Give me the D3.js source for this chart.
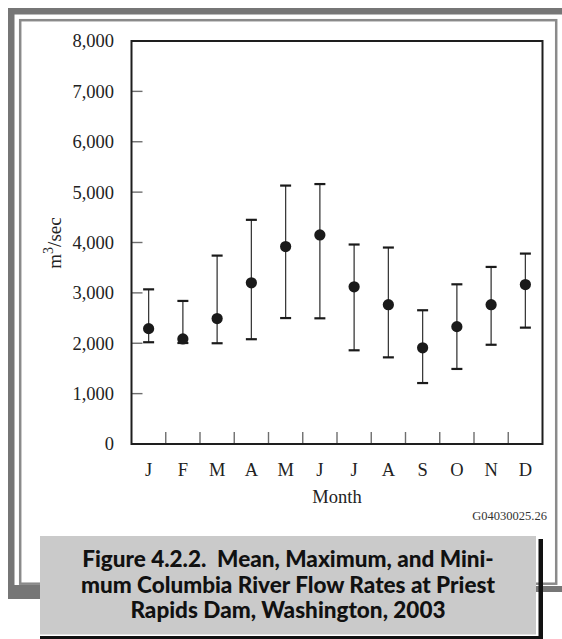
<!DOCTYPE html>
<html><head><meta charset="utf-8">
<script src="https://cdn.jsdelivr.net/npm/d3@7"></script>
<style>html,body{margin:0;padding:0;background:#fff;}svg{display:block;}</style>
</head><body>
<svg id="chart" width="562" height="639"></svg>
<script>
const monthLabels = ["J","F","M","A","M","J","J","A","S","O","N","D"];
const meanFlow = [2290, 2085, 2490, 3200, 3920, 4150, 3120, 2765, 1910, 2330, 2765, 3165];
const maxFlow  = [3070, 2840, 3740, 4450, 5130, 5160, 3960, 3900, 2655, 3170, 3515, 3780];
const minFlow  = [2020, 2005, 2000, 2080, 2500, 2495, 1860, 1720, 1210, 1490, 1970, 2310];
const yTickValues = [0,1000,2000,3000,4000,5000,6000,7000,8000];
const captionLines = ["Figure 4.2.2.  Mean, Maximum, and Mini-", "mum Columbia River Flow Rates at Priest", "Rapids Dam, Washington, 2003"];

const svg = d3.select("#chart");
const serif = "Liberation Serif, Times New Roman, serif";

// decorative frame
const frameGray = "#767676";
svg.append("rect").attr("x",8).attr("y",8).attr("width",554).attr("height",6.5).attr("fill",frameGray);
svg.append("rect").attr("x",8).attr("y",8).attr("width",6.5).attr("height",591).attr("fill",frameGray);
svg.append("rect").attr("x",8).attr("y",585).attr("width",40).attr("height",14).attr("fill",frameGray);
svg.append("rect").attr("x",530).attr("y",586).attr("width",32).attr("height",6).attr("fill",frameGray);
svg.append("rect").attr("x",20.2).attr("y",20.2).attr("width",536).attr("height",563.5)
  .attr("fill","none").attr("stroke","#8a8a8a").attr("stroke-width",2.5);

// plot area
const L = 131.5, R = 542.5, T = 41, B = 444;
const x = d3.scaleBand().domain(d3.range(12)).range([L, R]).padding(0);
const y = d3.scaleLinear().domain([0, 8000]).range([B, T]);

const g = svg.append("g");

// y ticks (inside)
g.selectAll(".yt").data(yTickValues.slice(1, -1)).enter().append("line")
  .attr("x1", L).attr("x2", L + 11).attr("y1", d => y(d)).attr("y2", d => y(d))
  .attr("stroke", "#6e6e6e").attr("stroke-width", 1.4);
// y tick labels
g.selectAll(".yl").data(yTickValues).enter().append("text")
  .attr("x", 114).attr("y", d => y(d)).attr("dy", "0.35em")
  .attr("text-anchor", "end").attr("font-family", serif)
  .attr("font-size", 18.5).attr("fill", "#222").text(d3.format(","));

// x ticks between months (inside, from bottom)
g.selectAll(".xt").data(d3.range(1, 12)).enter().append("line")
  .attr("x1", i => x(i)).attr("x2", i => x(i)).attr("y1", B).attr("y2", B - 12)
  .attr("stroke", "#6e6e6e").attr("stroke-width", 1.4);
// x labels
g.selectAll(".xl").data(monthLabels).enter().append("text")
  .attr("x", (d, i) => x(i) + x.bandwidth() / 2).attr("y", 476)
  .attr("text-anchor", "middle").attr("font-family", serif)
  .attr("font-size", 18.5).attr("fill", "#222").text(d => d);

// frame box
g.append("rect").attr("x", L).attr("y", T).attr("width", R - L).attr("height", B - T)
  .attr("fill", "none").attr("stroke", "#1e1e1e").attr("stroke-width", 2);

// error bars
const cx = i => x(i) + x.bandwidth() / 2;
const bars = g.selectAll(".bar").data(d3.range(12)).enter().append("g");
bars.append("line").attr("x1", cx).attr("x2", cx)
  .attr("y1", i => y(maxFlow[i])).attr("y2", i => y(minFlow[i]))
  .attr("stroke", "#3a3a3a").attr("stroke-width", 1.3);
bars.append("line").attr("x1", i => cx(i) - 5.5).attr("x2", i => cx(i) + 5.5)
  .attr("y1", i => y(maxFlow[i])).attr("y2", i => y(maxFlow[i]))
  .attr("stroke", "#1a1a1a").attr("stroke-width", 2.2);
bars.append("line").attr("x1", i => cx(i) - 5.5).attr("x2", i => cx(i) + 5.5)
  .attr("y1", i => y(minFlow[i])).attr("y2", i => y(minFlow[i]))
  .attr("stroke", "#1a1a1a").attr("stroke-width", 2.2);
bars.append("circle").attr("cx", cx).attr("cy", i => y(meanFlow[i])).attr("r", 5.6)
  .attr("fill", "#1a1a1a");

// axis titles
const yt = svg.append("text").attr("transform", "translate(61,243) rotate(-90)")
  .attr("text-anchor", "middle").attr("font-family", serif)
  .attr("font-size", 19).attr("fill", "#222");
yt.append("tspan").text("m");
yt.append("tspan").attr("dy", -8).attr("font-size", 14).text("3");
yt.append("tspan").attr("dy", 8).text("/sec");

svg.append("text").attr("x", (L + R) / 2).attr("y", 503).attr("text-anchor", "middle")
  .attr("font-family", serif).attr("font-size", 18.5)
  .attr("fill", "#222").text("Month");
svg.append("text").attr("x", 547).attr("y", 520).attr("text-anchor", "end")
  .attr("font-family", serif).attr("font-size", 12.5)
  .attr("fill", "#333").text("G04030025.26");

// caption box
svg.append("rect").attr("x", 538.5).attr("y", 539).attr("width", 4.5).attr("height", 100).attr("fill", "#111");
svg.append("rect").attr("x", 40).attr("y", 636).attr("width", 503).attr("height", 3).attr("fill", "#111");
svg.append("rect").attr("x", 40).attr("y", 536).attr("width", 496).attr("height", 98.5).attr("fill", "#cacaca");
const cap = svg.append("g");
const capText = cap.selectAll("text").data(captionLines).enter().append("text")
  .attr("x", 288).attr("y", (d, i) => 567 + i * 25.5).attr("text-anchor", "middle")
  .attr("font-family", "Lato, 'Noto Sans', sans-serif").attr("font-weight", 900)
  .attr("font-size", 20).attr("fill", "#111").attr("xml:space", "preserve")
  .style("white-space", "pre").text(d => d);
const w0 = capText.node().getComputedTextLength();
const fs = 20 * 412 / w0;
capText.attr("font-size", fs);
</script>
</body></html>
